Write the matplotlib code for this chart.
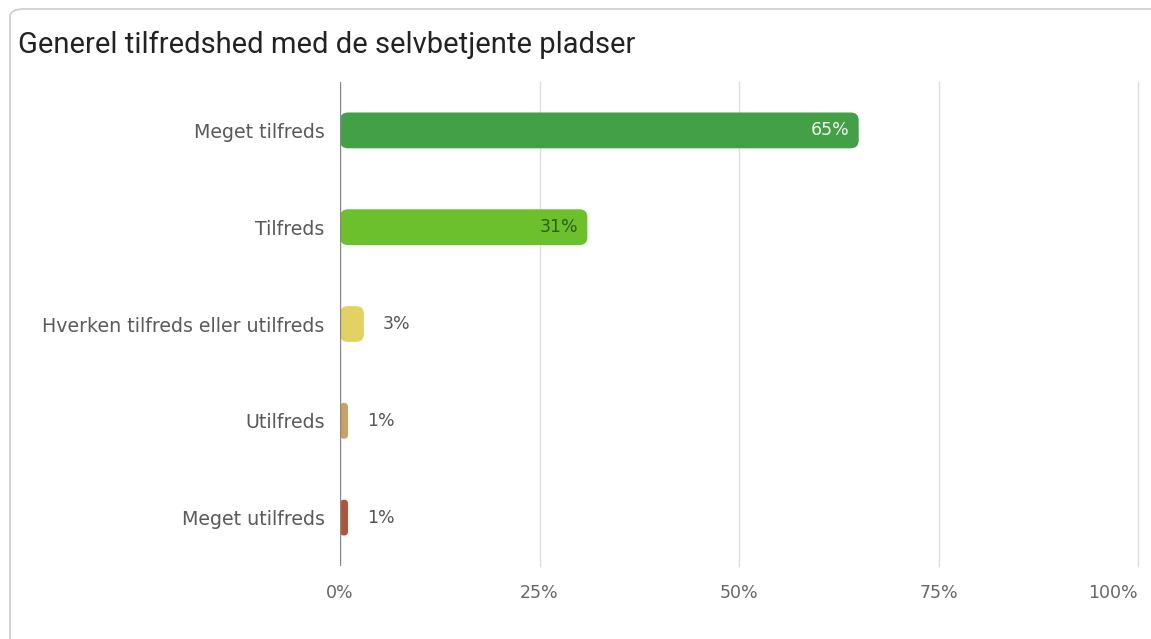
import matplotlib.pyplot as plt
from matplotlib.patches import FancyBboxPatch

# data
categories = ["Meget tilfreds", "Tilfreds", "Hverken tilfreds eller utilfreds",
              "Utilfreds", "Meget utilfreds"]
values = [65, 31, 3, 1, 1]
bar_colors = ["#43a047", "#6cc02c", "#e2d264", "#c9a263", "#b0553a"]
label_colors = ["#f2f8ee", "#2f5e1a", "#555555", "#555555", "#555555"]
xticks = [0, 25, 50, 75, 100]
xticklabels = ["0%", "25%", "50%", "75%", "100%"]

W, H = 1151, 639
fig = plt.figure(figsize=(W / 100, H / 100), dpi=100)
fig.patch.set_facecolor("white")

# card frame
card = FancyBboxPatch((10 / W, -0.1), 1.2, (H - 9) / H + 0.1,
                      boxstyle="round,pad=0,rounding_size=0.012",
                      transform=fig.transFigure, facecolor="white",
                      edgecolor="#cccccc", linewidth=1.2, zorder=-1)
fig.patches.append(card)

fig.text(18 / W, 1 - 45 / H, "Generel tilfredshed med de selvbetjente pladser",
         fontsize=21, family="Roboto", color="#222222", va="center", ha="left")

ax = fig.add_axes([340 / W, 1 - 566 / H, (1138 - 340) / W, (566 - 82) / H])
ax.set_facecolor("none")
ax.set_xlim(0, 100)
ax.set_ylim(4.5, -0.5)

ypos = list(range(len(categories)))
bar_h = 0.37
bars = ax.barh(ypos, values, height=bar_h, color=bar_colors)

# swap plain bars for rounded ones
px_x = 798 / 100   # pixels per 1%
px_y = 97          # pixels per category
aspect = px_x / px_y
for b, c in zip(bars, bar_colors):
    x0, y0 = b.get_x(), b.get_y()
    w, h = b.get_width(), b.get_height()
    r = min(1.0, w / 2)
    b.set_visible(False)
    p = FancyBboxPatch((x0, y0), w, h,
                       boxstyle=f"round,pad=0,rounding_size={r}",
                       mutation_aspect=aspect, facecolor=c,
                       edgecolor="none", zorder=3)
    ax.add_patch(p)

for y, v, lc in zip(ypos, values, label_colors):
    if v > 20:
        ax.text(v - 1.1, y, f"{v}%", ha="right", va="center",
                color=lc, fontsize=12.5, zorder=4)
    else:
        ax.text(v + 2.4, y, f"{v}%", ha="left", va="center",
                color=lc, fontsize=12.5, zorder=4)

ax.set_yticks(ypos)
ax.set_yticklabels(categories, fontsize=13.7, color="#5a5a5a")
ax.set_xticks(xticks)
ax.set_xticklabels(xticklabels, fontsize=12.5, color="#666666")
ax.get_xticklabels()[-1].set_horizontalalignment("right")
ax.tick_params(length=0, pad=11)
ax.tick_params(axis="x", pad=13)
for s in ax.spines.values():
    s.set_visible(False)
for x in xticks[1:]:
    ax.axvline(x, color="#dddddd", linewidth=1, zorder=1, clip_on=False)
ax.axvline(0, color="#888888", linewidth=1, zorder=5)

fig.savefig("out.png", dpi=100)
